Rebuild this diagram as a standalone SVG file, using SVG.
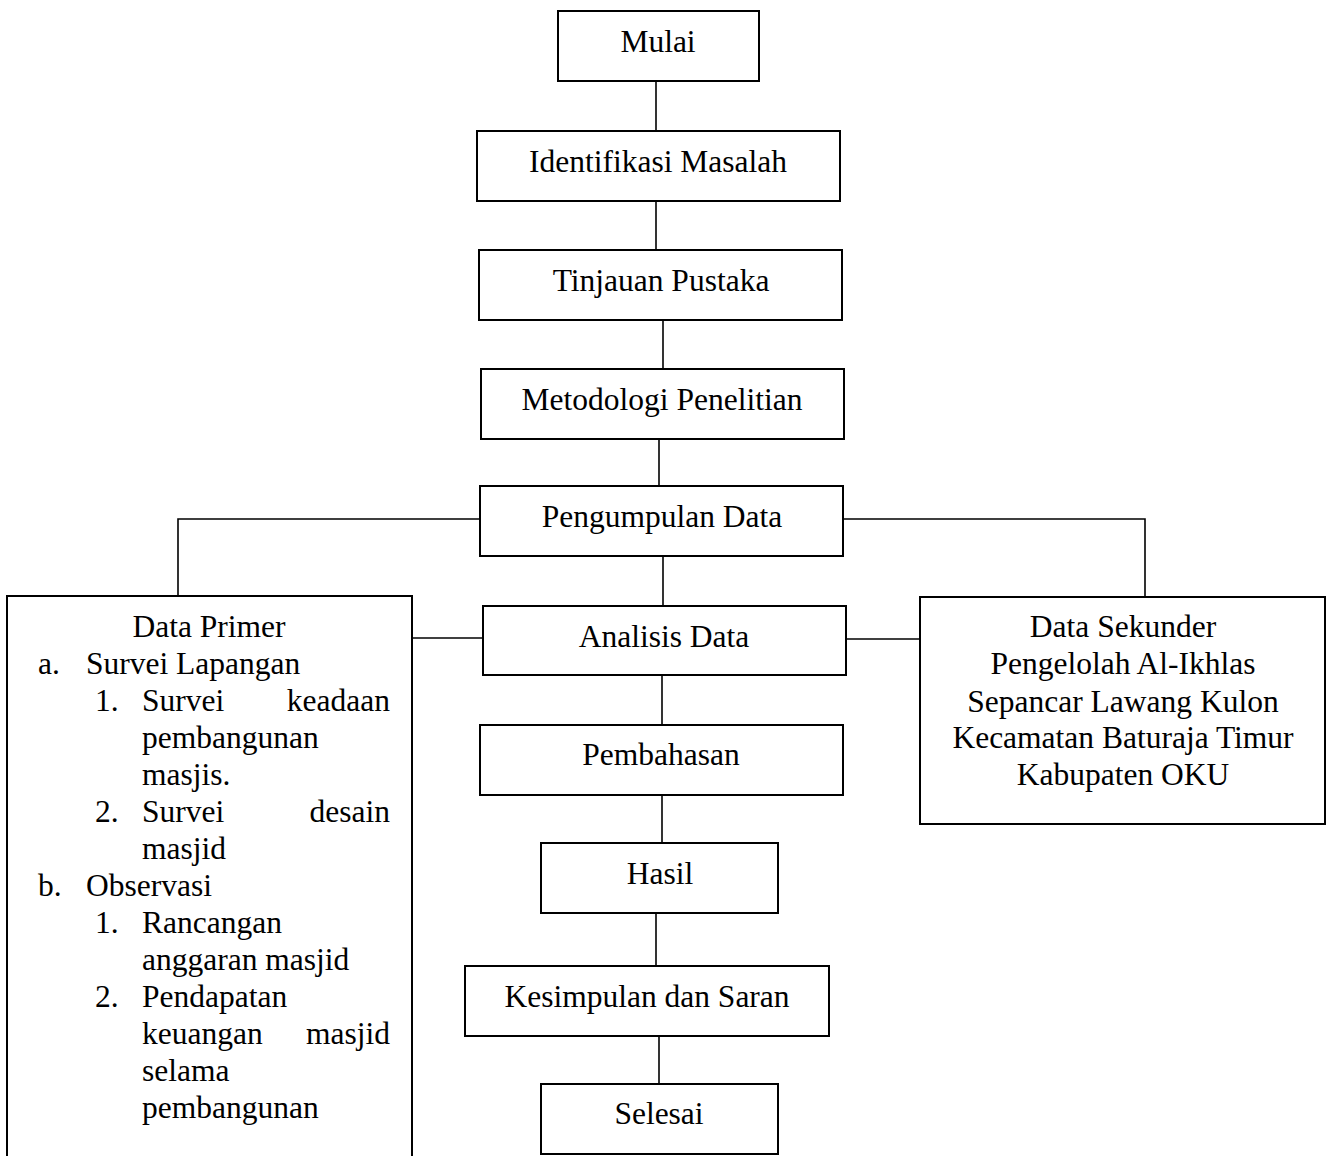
<svg xmlns="http://www.w3.org/2000/svg" width="1327" height="1156" viewBox="0 0 1327 1156">
<style>
.box{fill:#fff;stroke:#000;stroke-width:2}
.ln{stroke:#000;stroke-width:1.6;fill:none}
text{font-family:"Liberation Serif","Times New Roman",serif;font-size:31.5px;fill:#000}
.c{text-anchor:middle}
.e{text-anchor:end}
</style>
<rect width="1327" height="1156" fill="#fff"/>
<g id="connectors">
<line class="ln" x1="656" y1="81" x2="656" y2="131"/>
<line class="ln" x1="656" y1="201" x2="656" y2="250"/>
<line class="ln" x1="663" y1="320" x2="663" y2="369"/>
<line class="ln" x1="659" y1="439" x2="659" y2="486"/>
<polyline class="ln" points="480,519 178,519 178,596"/>
<polyline class="ln" points="843,519 1145,519 1145,597"/>
<line class="ln" x1="663" y1="556" x2="663" y2="606"/>
<line class="ln" x1="412" y1="638" x2="483" y2="638"/>
<line class="ln" x1="846" y1="639" x2="920" y2="639"/>
<line class="ln" x1="662" y1="675" x2="662" y2="725"/>
<line class="ln" x1="662" y1="795" x2="662" y2="843"/>
<line class="ln" x1="656" y1="913" x2="656" y2="966"/>
<line class="ln" x1="659" y1="1036" x2="659" y2="1084"/>
</g>
<g id="mulai"><rect class="box" x="558" y="11" width="201" height="70"/><text class="c" x="658" y="52">Mulai</text></g>
<g id="identifikasi"><rect class="box" x="477" y="131" width="363" height="70"/><text class="c" x="658" y="172">Identifikasi Masalah</text></g>
<g id="tinjauan"><rect class="box" x="479" y="250" width="363" height="70"/><text class="c" x="661" y="291">Tinjauan Pustaka</text></g>
<g id="metodologi"><rect class="box" x="481" y="369" width="363" height="70"/><text class="c" x="662" y="410">Metodologi Penelitian</text></g>
<g id="pengumpulan"><rect class="box" x="480" y="486" width="363" height="70"/><text class="c" x="662" y="527">Pengumpulan Data</text></g>
<g id="analisis"><rect class="box" x="483" y="606" width="363" height="69"/><text class="c" x="664" y="647">Analisis Data</text></g>
<g id="pembahasan"><rect class="box" x="480" y="725" width="363" height="70"/><text class="c" x="661" y="765">Pembahasan</text></g>
<g id="hasil"><rect class="box" x="541" y="843" width="237" height="70"/><text class="c" x="660" y="884">Hasil</text></g>
<g id="kesimpulan"><rect class="box" x="465" y="966" width="364" height="70"/><text class="c" x="647" y="1007">Kesimpulan dan Saran</text></g>
<g id="selesai"><rect class="box" x="541" y="1084" width="237" height="70"/><text class="c" x="659" y="1124">Selesai</text></g>
<g id="data-primer">
<rect class="box" x="7" y="596" width="405" height="580"/>
<text class="c" x="209" y="637">Data Primer</text>
<text x="38" y="674">a.</text><text x="86" y="674">Survei Lapangan</text>
<text x="95" y="711">1.</text><text x="142" y="711">Survei</text><text class="e" x="390" y="711">keadaan</text>
<text x="142" y="748">pembangunan</text>
<text x="142" y="785">masjis.</text>
<text x="95" y="822">2.</text><text x="142" y="822">Survei</text><text class="e" x="390" y="822">desain</text>
<text x="142" y="859">masjid</text>
<text x="38" y="896">b.</text><text x="86" y="896">Observasi</text>
<text x="95" y="933">1.</text><text x="142" y="933">Rancangan</text>
<text x="142" y="970">anggaran masjid</text>
<text x="95" y="1007">2.</text><text x="142" y="1007">Pendapatan</text>
<text x="142" y="1044">keuangan</text><text class="e" x="390" y="1044">masjid</text>
<text x="142" y="1081">selama</text>
<text x="142" y="1118">pembangunan</text>
</g>
<g id="data-sekunder">
<rect class="box" x="920" y="597" width="405" height="227"/>
<text class="c" x="1123" y="637">Data Sekunder</text>
<text class="c" x="1123" y="674">Pengelolah Al-Ikhlas</text>
<text class="c" x="1123" y="712">Sepancar Lawang Kulon</text>
<text class="c" x="1123" y="748">Kecamatan Baturaja Timur</text>
<text class="c" x="1123" y="785">Kabupaten OKU</text>
</g>
</svg>
